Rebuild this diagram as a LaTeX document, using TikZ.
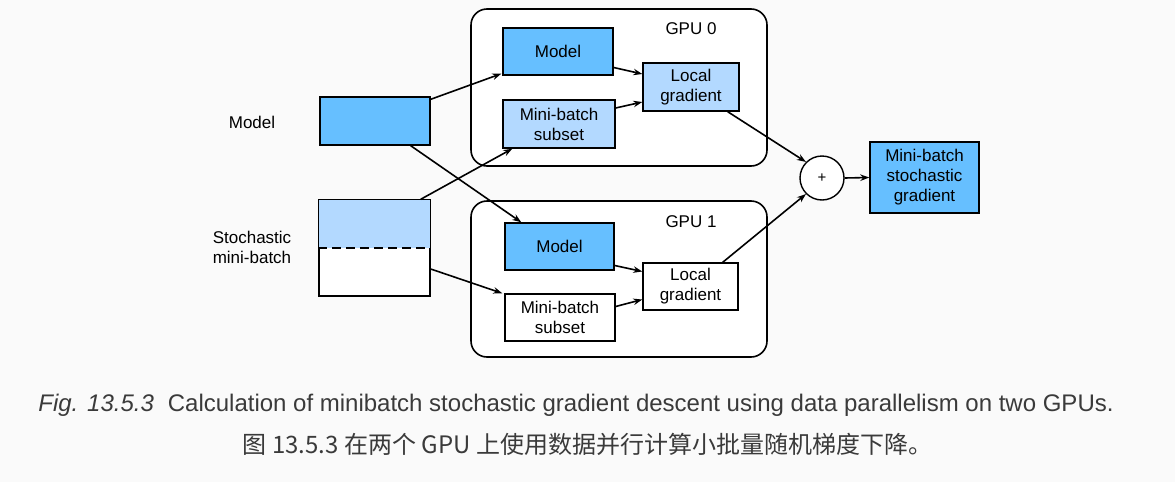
\documentclass[tikz,border=0pt]{standalone}
\usepackage{fontspec}
\setmainfont{Liberation Sans}
\newfontfamily\cjk{Noto Sans CJK SC}
\usetikzlibrary{arrows.meta,calc}
\definecolor{bg}{HTML}{FAFAFA}
\definecolor{dblue}{HTML}{66BFFF}
\definecolor{lblue}{HTML}{B3D9FF}
\definecolor{captxt}{HTML}{3A3A3A}
\begin{document}
\begin{tikzpicture}[x=1pt,y=-1pt,
  every node/.style={font=\fontsize{17}{20}\selectfont},
  box/.style={draw=black,line width=1.4pt,rectangle,inner sep=0pt,align=center},
  gpubox/.style={draw=black,line width=1.6pt,rounded corners=16pt,fill=white,inner sep=0pt},
  conn/.style={line width=1.6pt,-{Stealth[length=9pt,width=6.5pt]}},
  lbl/.style={align=center},
  captext/.style={text=captxt,font=\fontsize{24}{28}\selectfont}]
\fill[bg] (0,0) rectangle (1175,482);
\useasboundingbox (0,0) rectangle (1175,482);
% GPU containers
\node[gpubox,minimum width=296pt,minimum height=157pt] (gpu0) at (619,87.5) {};
\node[gpubox,minimum width=296pt,minimum height=156pt] (gpu1) at (619,279) {};
\node (g0lbl) at (691,29) {GPU 0};
\node (g1lbl) at (691,222) {GPU 1};
% left side
\node[lbl] (modellbl) at (252,122) {Model};
\node[lbl] (stochlbl) at (252,247) {Stochastic\\mini-batch};
\node[box,fill=dblue,minimum width=110pt,minimum height=48pt] (lm) at (375,121) {};
\node[box,fill=white,minimum width=111pt,minimum height=96pt] (sb) at (374.5,248) {};
\fill[lblue] ($(sb.north west)+(0.7,0.7)$) rectangle ($(sb.east)+(-0.7,0)$);
\draw[line width=1.4pt,dash pattern=on 9pt off 5pt] (sb.west) -- (sb.east);
\draw[line width=1.4pt] (sb.north west) rectangle (sb.south east);
% GPU 0 inner
\node[box,fill=dblue,minimum width=110pt,minimum height=47pt] (m0) at (558,51.5) {Model};
\node[box,fill=lblue,minimum width=112pt,minimum height=48pt] (s0) at (559,124) {Mini-batch\\subset};
\node[box,fill=lblue,minimum width=96pt,minimum height=48pt] (l0) at (691,87) {Local\\gradient};
% GPU 1 inner
\node[box,fill=dblue,minimum width=109pt,minimum height=47pt] (m1) at (559.5,246.5) {Model};
\node[box,fill=white,minimum width=110pt,minimum height=47pt] (s1) at (560,317.5) {Mini-batch\\subset};
\node[box,fill=white,minimum width=95pt,minimum height=47pt] (l1) at (690.5,286.5) {Local\\gradient};
% sum and output
\node[draw=black,line width=1.4pt,circle,fill=white,minimum size=44pt,inner sep=0pt,font=\fontsize{15}{15}\selectfont] (plus) at (822,178) {+};
\node[box,fill=dblue,minimum width=109pt,minimum height=71pt] (out) at (924.5,177.5) {Mini-batch\\stochastic\\gradient};
% connectors
\draw[conn] ($(lm.north east)+(0,3)$) -- ($(m0.south west)+(-1,-2)$);
\draw[conn] ($(lm.south east)+(-20,0)$) -- ($(m1.north west)+(17,0)$);
\draw[conn] ($(sb.north east)+(-10,0)$) -- ($(s0.south west)+(10,0)$);
\draw[conn] ($(sb.east)+(0,21)$) -- ($(s1.north west)+(-2,0)$);
\draw[conn] ($(m0.east)+(0,16)$) -- ($(l0.west)+(0,-13)$);
\draw[conn] ($(s0.east)+(0,-16)$) -- ($(l0.west)+(0,15)$);
\draw[conn] ($(m1.east)+(0,19)$) -- ($(l1.west)+(0,-15)$);
\draw[conn] ($(s1.east)+(0,-11)$) -- ($(l1.west)+(0,13)$);
\draw[conn] ($(l0.south east)+(-12,0)$) -- (plus.135);
\draw[conn] ($(l1.north east)+(-16,0)$) -- (plus.225);
\draw[conn] (plus.east) -- (out.west);
% caption
\node[captext] (cap1) at (576,405) {\textit{Fig. 13.5.3}\hspace{0.3em} Calculation of minibatch stochastic gradient descent using data parallelism on two GPUs.};
\node[captext] (cap2) at (587.5,444) {\cjk 图 13.5.3 在两个 GPU 上使用数据并行计算小批量随机梯度下降。};
\end{tikzpicture}
\end{document}
